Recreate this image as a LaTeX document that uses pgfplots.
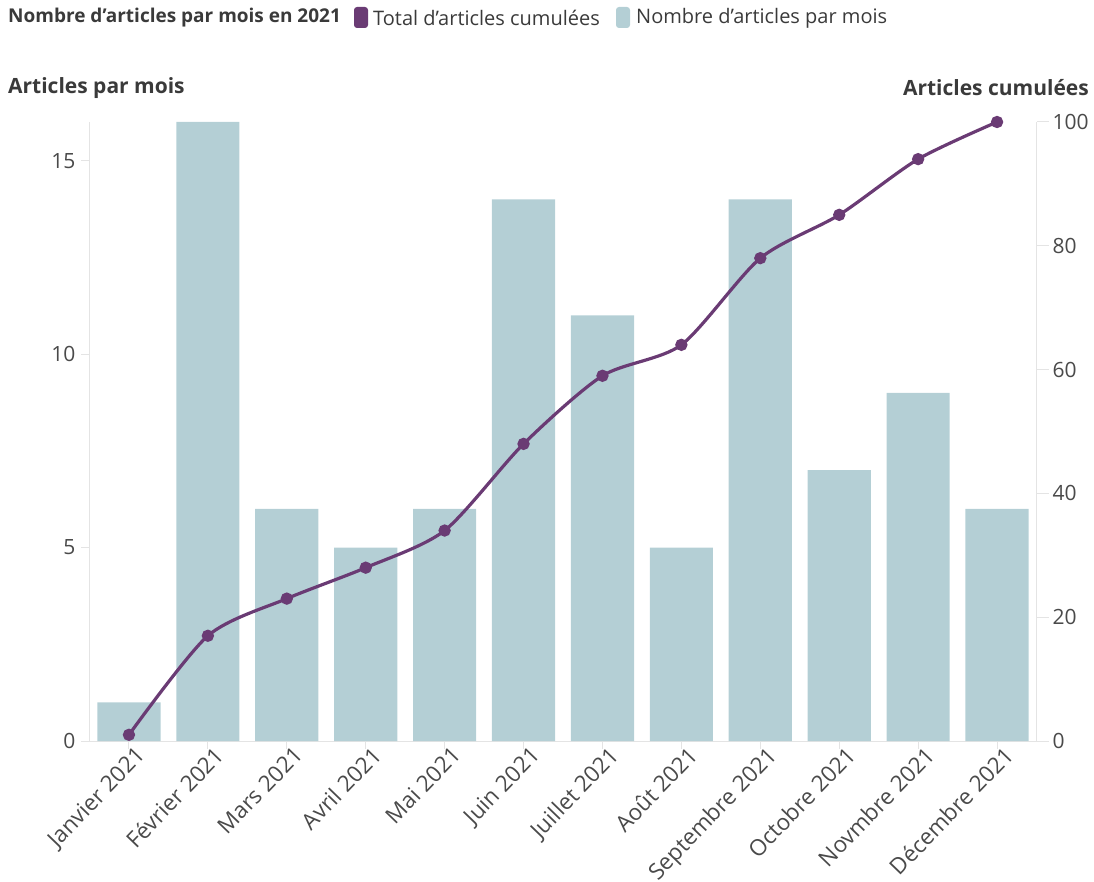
\documentclass[border=0pt]{standalone}
\usepackage{fontspec}
\setmainfont{Open Sans}
\usepackage{pgfplots}
\pgfplotsset{compat=1.18}
\definecolor{barc}{HTML}{B4CFD5}
\definecolor{linec}{HTML}{6A3B74}
\definecolor{txt}{HTML}{4A4A4A}
\definecolor{ttl}{HTML}{3A3A3A}
\definecolor{axc}{HTML}{E4E4E4}
\begin{document}
\begin{tikzpicture}
\useasboundingbox (0pt,0pt) rectangle (1094pt,881pt);
\begin{axis}[at={(89.5pt,140pt)}, anchor=south west, scale only axis,
  width=947pt, height=619pt,
  xmin=-0.5, xmax=11.5, ymin=0, ymax=16,
  xtick={0,...,11},
  xticklabels={Janvier 2021,Février 2021,Mars 2021,Avril 2021,Mai 2021,Juin 2021,Juillet 2021,Août 2021,Septembre 2021,Octobre 2021,Novmbre 2021,Décembre 2021},
  x tick label style={rotate=46, anchor=north east, font=\fontsize{22.5}{24}\selectfont, text=txt, inner sep=1pt, xshift=8pt},
  ytick={0,5,10,15},
  y tick label style={font=\fontsize{21}{22}\selectfont, text=txt, inner sep=2pt, xshift=-4pt},
  /pgf/number format/assume math mode=true,
  axis y line*=left, axis x line*=bottom,
  axis line style={axc, line width=1pt},
  major tick length=8pt, tick align=outside,
  xtick style={axc, line width=1pt},
  ytick style={axc, line width=1pt},
  clip=false]
\addplot[ybar, bar width=0.8, fill=barc, draw=none] coordinates {
(0,1) (1,16) (2,6) (3,5) (4,6) (5,14) (6,11) (7,5) (8,14) (9,7) (10,9) (11,6)};
\end{axis}
\begin{axis}[at={(89.5pt,140pt)}, anchor=south west, scale only axis,
  width=947pt, height=619pt,
  xmin=-0.5, xmax=11.5, ymin=0, ymax=100,
  axis x line=none, axis y line*=right,
  ytick={0,20,...,100},
  y tick label style={font=\fontsize{21}{22}\selectfont, text=txt, inner sep=2pt, xshift=2pt},
  /pgf/number format/assume math mode=true,
  axis line style={axc, line width=1pt},
  major tick length=12pt, tick align=outside,
  ytick style={axc, line width=1pt},
  clip=false]
\addplot[smooth, tension=0.45, linec, line width=3.2pt, mark=*, mark size=4.5pt, mark options={fill=linec, draw=linec}] coordinates {
(0,1) (1,17) (2,23) (3,28) (4,34) (5,48) (6,59) (7,64) (8,78) (9,85) (10,94) (11,100)};
\end{axis}
\node[anchor=west, font=\bfseries\fontsize{19}{20}\selectfont, text=ttl, inner sep=0] at (8pt,863pt) {Nombre d'articles par mois en 2021};
\fill[linec, rounded corners=3pt] (354pt,853pt) rectangle (368pt,874pt);
\node[anchor=west, font=\fontsize{20}{22}\selectfont, text=ttl, inner sep=0] at (373pt,863pt) {Total d’articles cumulées};
\fill[barc, rounded corners=3pt] (616pt,853pt) rectangle (630pt,874pt);
\node[anchor=west, font=\fontsize{20}{22}\selectfont, text=ttl, inner sep=0] at (636pt,863pt) {Nombre d’articles par mois};
\node[anchor=west, font=\bfseries\fontsize{21}{22}\selectfont, text=ttl, inner sep=0] at (8pt,793pt) {Articles par mois};
\node[anchor=east, font=\bfseries\fontsize{21}{22}\selectfont, text=ttl, inner sep=0] at (1089pt,793pt) {Articles cumulées};
\end{tikzpicture}
\end{document}
